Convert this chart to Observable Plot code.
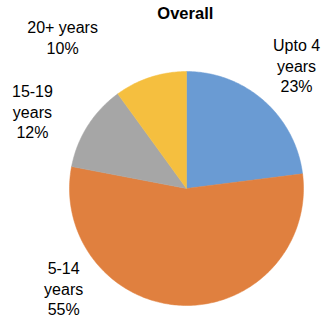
<!DOCTYPE html>
<html>
<head>
<meta charset="utf-8">
<script src="https://cdn.jsdelivr.net/npm/d3@7"></script>
<script src="https://cdn.jsdelivr.net/npm/@observablehq/plot@0.6"></script>
<style>
  html, body { margin: 0; padding: 0; background: #fff; }
  #chart svg { display: block; }
</style>
</head>
<body>
<div id="chart"></div>
<script>
// ---- data ----
const title = "Overall";
const categories = ["Upto 4 years", "5-14 years", "15-19 years", "20+ years"];
const labelText = ["Upto 4\nyears", "5-14\nyears", "15-19\nyears", "20+ years"];
const shares = [23, 55, 12, 10];
const colors = ["#6a9bd3", "#e0803f", "#a6a6a6", "#f5bf3f"];

// ---- layout (label placement, polar: degrees clockwise from top, radius factor) ----
const labelAngle = [41.7, 231.0, 296.7, 320.7];
const labelRadius = [1.414, 1.351, 1.474, 1.672];

const W = 326, H = 322, cx = 186, cy = 188, R = 117;

// slice geometry from shares
const total = d3.sum(shares);
const slices = [];
let acc = 0;
shares.forEach((v, i) => {
  const a0 = acc / total * 2 * Math.PI;
  acc += v;
  const a1 = acc / total * 2 * Math.PI;
  const n = Math.max(2, Math.ceil((a1 - a0) / (Math.PI / 180)));
  slices.push({cat: categories[i], x: 0, y: 0});
  for (let j = 0; j <= n; j++) {
    const a = a0 + (a1 - a0) * j / n;
    slices.push({cat: categories[i], x: Math.sin(a), y: Math.cos(a)});
  }
  slices.push({cat: categories[i], x: 0, y: 0});
});

const labels = categories.map((c, i) => {
  const a = labelAngle[i] * Math.PI / 180;
  return {
    cat: c,
    text: labelText[i] + "\n" + shares[i] + "%",
    x: Math.sin(a) * labelRadius[i],
    y: Math.cos(a) * labelRadius[i]
  };
});

const plot = Plot.plot({
  width: W,
  height: H,
  margin: 0,
  style: {fontFamily: "Liberation Sans, Arial, Helvetica, sans-serif", background: "#fff"},
  x: {domain: [-1, 1], range: [cx - R, cx + R], axis: null},
  y: {domain: [-1, 1], range: [cy + R, cy - R], axis: null},
  color: {domain: categories, range: colors},
  marks: [
    Plot.line(slices, {x: "x", y: "y", z: "cat", fill: "cat", stroke: "cat", strokeWidth: 0.5, curve: "linear"}),
    Plot.text(labels, {x: "x", y: "y", text: "text", fontSize: 16, lineHeight: 1.3, fill: "#000", textAnchor: "middle"}),
    Plot.text([title], {x: () => -0.01, y: () => 1.49, text: d => d, fontSize: 16.5, fontWeight: "bold", fill: "#000"})
  ]
});
document.getElementById("chart").appendChild(plot);
</script>
</body>
</html>
